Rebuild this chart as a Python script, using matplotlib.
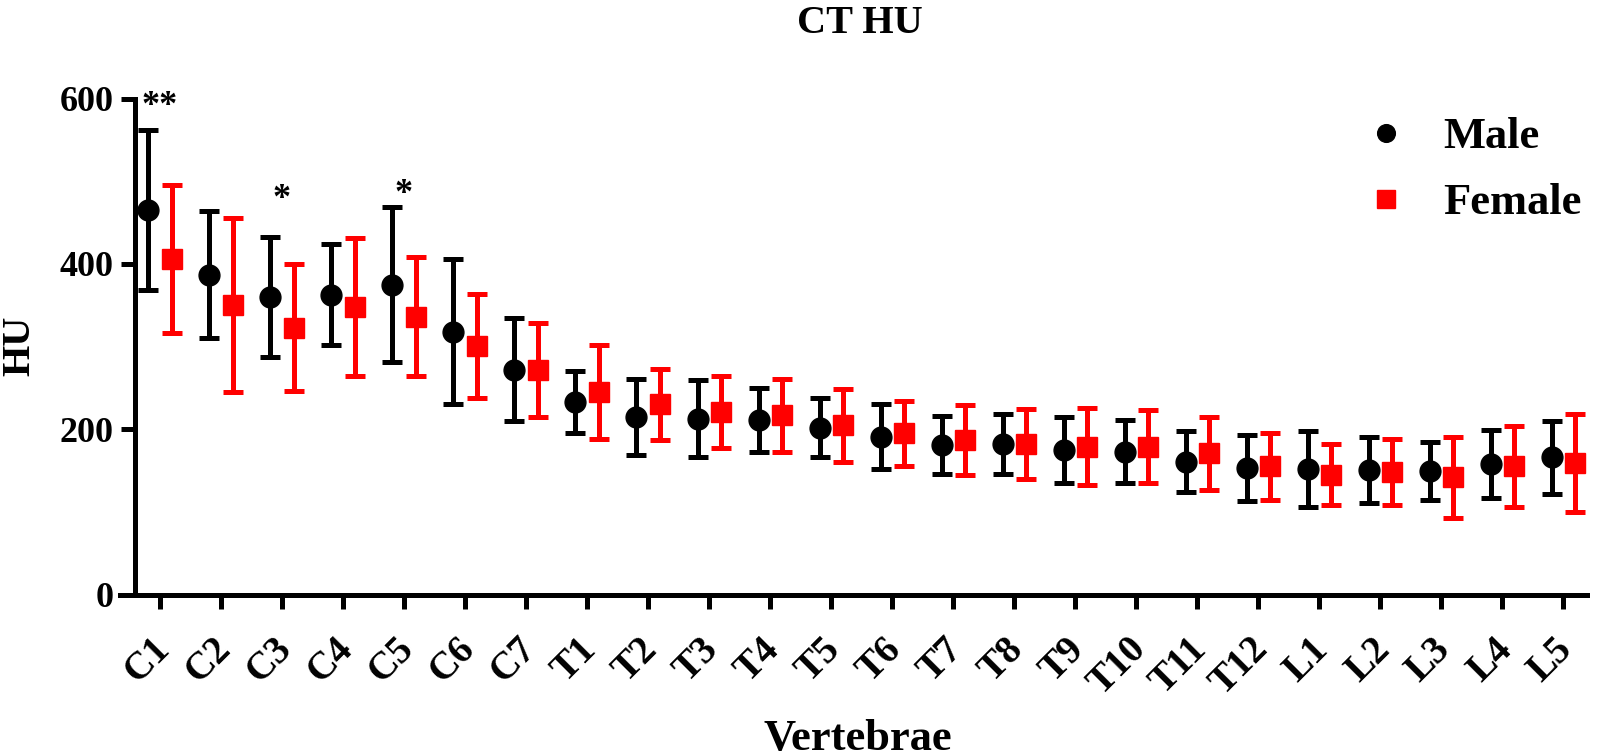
import matplotlib
matplotlib.use("Agg")
import matplotlib.pyplot as plt
import matplotlib.transforms as mtransforms
import numpy as np

categories = ["C1", "C2", "C3", "C4", "C5", "C6", "C7",
              "T1", "T2", "T3", "T4", "T5", "T6", "T7", "T8", "T9", "T10", "T11", "T12",
              "L1", "L2", "L3", "L4", "L5"]
male_mean = [465, 387, 360, 363, 375, 318, 272,
             233, 215, 213, 211, 202, 191, 181, 182, 175, 173, 161, 153,
             152, 151, 150, 158, 166]
male_sd = [97, 77, 73, 61, 94, 88, 62,
           38, 46, 47, 39, 36, 39, 35, 36, 40, 38, 37, 40,
           46, 40, 35, 41, 44]
female_mean = [406, 350, 323, 348, 336, 301, 272,
               245, 230, 221, 217, 205, 195, 187, 182, 179, 179, 171, 155,
               145, 148, 142, 155, 159]
female_sd = [90, 105, 77, 83, 72, 63, 57,
             57, 43, 44, 44, 44, 39, 42, 42, 47, 44, 44, 41,
             37, 40, 49, 49, 59]
yticks = [0, 200, 400, 600]
sig_index = [0, 2, 4]
sig_text = ["**", "*", "*"]
sig_y = [580, 468, 474]

plt.rcParams['font.family'] = ['Liberation Serif', 'DejaVu Serif']
plt.rcParams['font.weight'] = 'bold'

W, H = 1601, 756
fig = plt.figure(figsize=(W / 100, H / 100), dpi=100)
ax = fig.add_axes([120 / W, (H - 594.6) / H, 1467 / W, 496 / H])

x = np.arange(len(categories))
off = 0.19
lw = 3.6
eb_m = ax.errorbar(x - off, male_mean, yerr=male_sd, fmt='o', color='black', ms=15,
                   elinewidth=lw, capsize=7.5, capthick=lw, label='Male', zorder=3)
eb_f = ax.errorbar(x + off, female_mean, yerr=female_sd, fmt='s', color='#ff0000', ms=15,
                   elinewidth=lw, capsize=7.5, capthick=lw, label='Female', zorder=3)

for i, t, yv in zip(sig_index, sig_text, sig_y):
    ax.text(i, yv, t, ha='center', va='baseline', fontsize=26, fontweight='bold')

ax.set_xlim(-0.656, 23.39)
ax.set_ylim(0, 600)
ax.spines['left'].set_position(('data', -0.41))
for s in ['top', 'right']:
    ax.spines[s].set_visible(False)
for s in ['left', 'bottom']:
    ax.spines[s].set_linewidth(lw)
ax.set_yticks(yticks)
ax.set_yticklabels([str(v) for v in yticks])
ax.set_xticks(x)
ax.set_xticklabels(categories, rotation=45, ha='right', va='center', rotation_mode='anchor')
ax.tick_params(axis='both', direction='out', length=10, width=lw, labelsize=26)
ax.tick_params(axis='x', labelsize=28, pad=24)
ax.tick_params(axis='y', pad=5.5)
shift = mtransforms.ScaledTranslation(4 / 100, -2 / 100, fig.dpi_scale_trans)
for lab in ax.get_xticklabels():
    lab.set_transform(lab.get_transform() + shift)

leg = ax.legend(handles=[eb_m[0], eb_f[0]], labels=['Male', 'Female'],
                loc='upper left', bbox_to_anchor=(1364 / W, (H - 117) / H),
                bbox_transform=fig.transFigure, frameon=False, fontsize=32,
                handlelength=1.0, handletextpad=0.78, labelspacing=0.59,
                borderpad=0, borderaxespad=0, markerscale=0.85)

fig.text(860 / W, (H - 33) / H, 'CT HU', ha='center', va='baseline', fontsize=29, fontweight='bold')
fig.text(858 / W, (H - 750) / H, 'Vertebrae', ha='center', va='baseline', fontsize=32, fontweight='bold')
fig.text(29 / W, 1 - 346 / H, 'HU', rotation=90, ha='center', va='baseline',
         rotation_mode='anchor', fontsize=29, fontweight='bold')

fig.savefig('out.png', dpi=100)
